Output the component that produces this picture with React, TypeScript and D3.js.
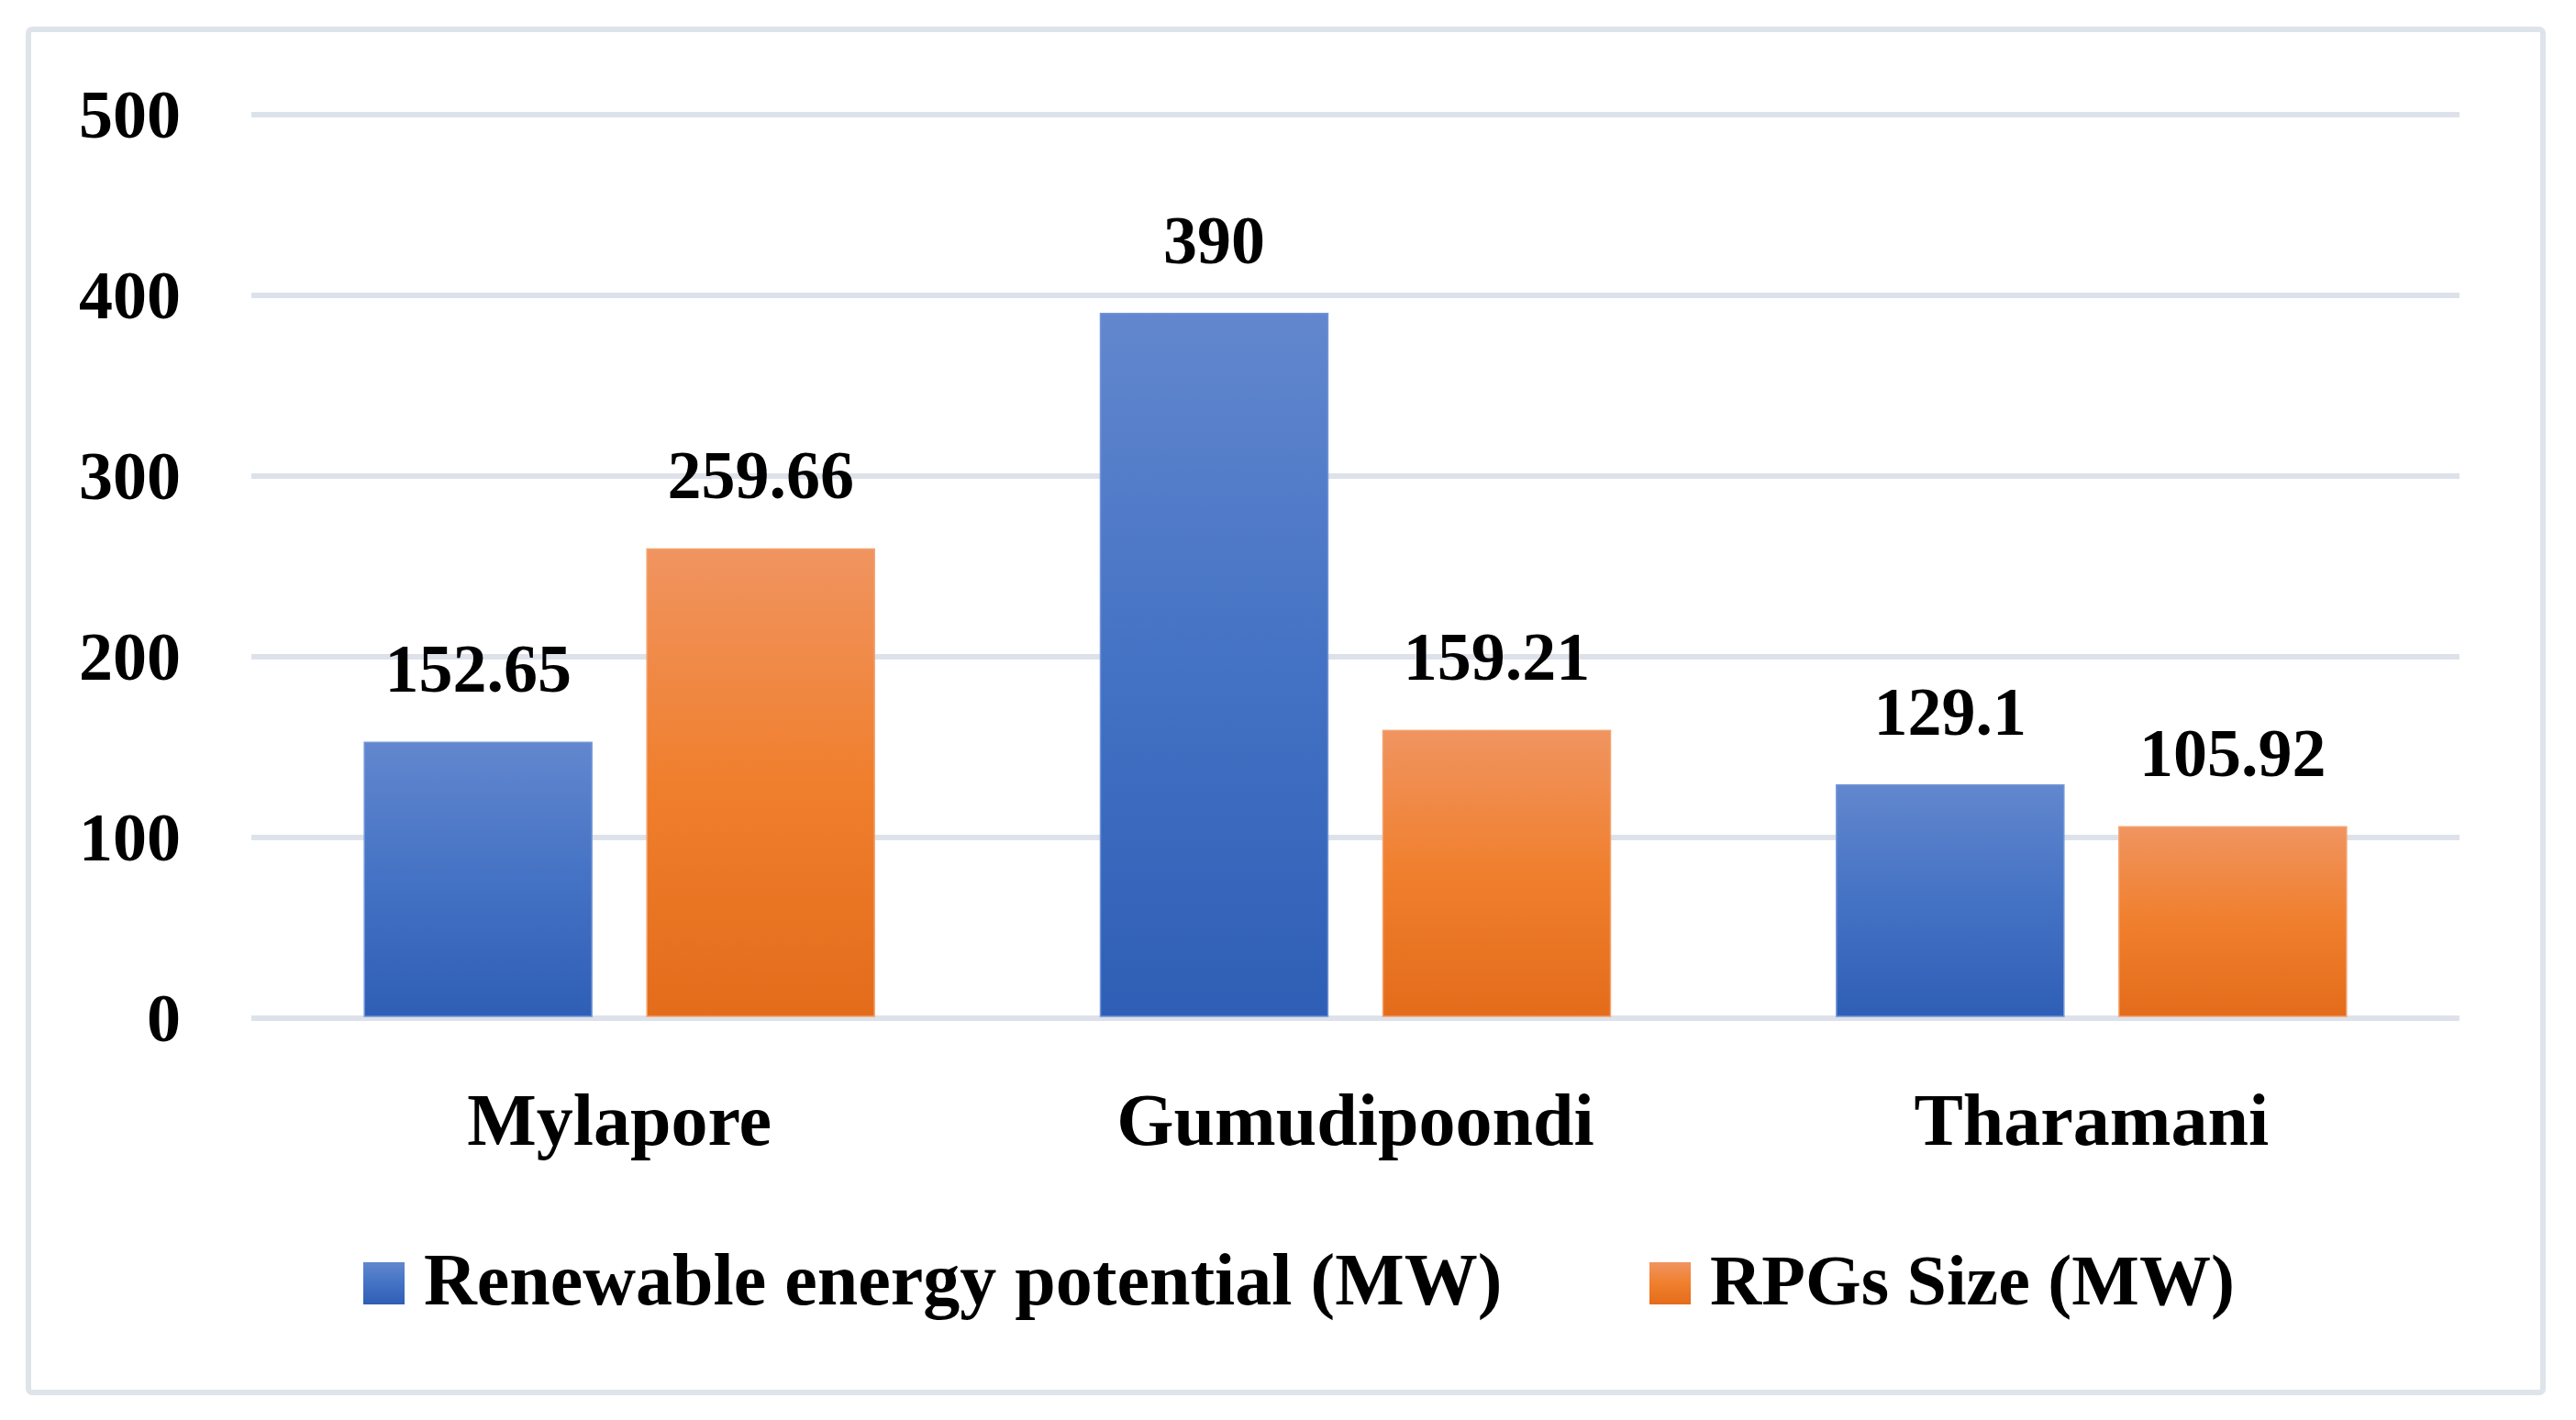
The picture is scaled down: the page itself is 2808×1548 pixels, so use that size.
import React from "react";
import * as d3 from "d3";

const categories = ["Mylapore", "Gumudipoondi", "Tharamani"];
const seriesNames = ["Renewable energy potential (MW)", "RPGs Size (MW)"];
const renewablePotential = [152.65, 390, 129.1];
const rpgSize = [259.66, 159.21, 105.92];
const valueLabels = [["152.65", "390", "129.1"], ["259.66", "159.21", "105.92"]];
const yTicks = [0, 100, 200, 300, 400, 500];

const W = 2808;
const H = 1548;
const FONT = "'Liberation Serif', 'Times New Roman', serif";

export default function App() {
  const plotLeft = 274;
  const plotRight = 2681;
  const yTop = 125;
  const yBottom = 1110;

  const y = d3.scaleLinear().domain([0, 500]).range([yBottom, yTop]);
  const x0 = d3.scaleBand<string>().domain(categories).range([plotLeft, plotRight]).padding(0);
  const groupW = 556;
  const x1 = d3
    .scaleBand<string>()
    .domain(seriesNames)
    .range([(x0.bandwidth() - groupW) / 2, (x0.bandwidth() + groupW) / 2])
    .paddingInner(0.195)
    .paddingOuter(0);

  const seriesValues = [renewablePotential, rpgSize];
  const gradIds = ["gradBlue", "gradOrange"];
  const strokeCols = ["#7396d8", "#f3a26e"];

  return (
    <svg
      width={W}
      height={H}
      viewBox={`0 0 ${W} ${H}`}
      style={{ position: "absolute", left: 0, top: 0, display: "block", background: "#ffffff" }}
    >
      <defs>
        <linearGradient id="gradBlue" x1="0" y1="0" x2="0" y2="1">
          <stop offset="0%" stopColor="#6287ce" />
          <stop offset="50%" stopColor="#4472c4" />
          <stop offset="100%" stopColor="#2f5eb6" />
        </linearGradient>
        <linearGradient id="gradOrange" x1="0" y1="0" x2="0" y2="1">
          <stop offset="0%" stopColor="#f09460" />
          <stop offset="50%" stopColor="#f07f2d" />
          <stop offset="100%" stopColor="#e36c1b" />
        </linearGradient>
      </defs>
      <rect x={0} y={0} width={W} height={H} fill="#ffffff" />
      <rect
        x={31}
        y={32}
        width={2741}
        height={1486}
        rx={4}
        fill="#ffffff"
        stroke="#dfe3ea"
        strokeWidth={6}
      />
      {/* gridlines */}
      {yTicks.map((t) => (
        <line
          key={"g" + t}
          x1={plotLeft}
          x2={plotRight}
          y1={y(t)}
          y2={y(t)}
          stroke="#dde2ea"
          strokeWidth={6}
        />
      ))}
      {/* y labels */}
      {yTicks.map((t) => (
        <text
          key={"yl" + t}
          x={197}
          y={y(t)}
          dy="0.34em"
          textAnchor="end"
          fontFamily={FONT}
          fontWeight="bold"
          fontSize={74}
          fill="#000"
        >
          {t}
        </text>
      ))}
      {/* bars */}
      {categories.map((c, ci) => (
        <g key={c} transform={`translate(${x0(c)},0)`}>
          {seriesNames.map((s, si) => {
            const v = seriesValues[si][ci];
            const bx = x1(s) as number;
            return (
              <g key={s}>
                <rect
                  x={bx}
                  y={y(v)}
                  width={x1.bandwidth()}
                  height={y(0) - y(v) - 2}
                  fill={`url(#${gradIds[si]})`}
                  stroke={strokeCols[si]}
                  strokeWidth={1.5}
                />
                <text
                  x={bx + x1.bandwidth() / 2}
                  y={y(v) - 55}
                  textAnchor="middle"
                  fontFamily={FONT}
                  fontWeight="bold"
                  fontSize={74}
                  fill="#000"
                >
                  {valueLabels[si][ci]}
                </text>
              </g>
            );
          })}
        </g>
      ))}
      {/* category labels */}
      {categories.map((c) => (
        <text
          key={"c" + c}
          x={(x0(c) as number) + x0.bandwidth() / 2}
          y={1248}
          textAnchor="middle"
          fontFamily={FONT}
          fontWeight="bold"
          fontSize={80}
          fill="#000"
        >
          {c}
        </text>
      ))}
      {/* legend */}
      {seriesNames.map((s, i) => {
        const lx = i === 0 ? 396 : 1798;
        return (
          <g key={"lg" + s}>
            <rect x={lx} y={1376} width={45} height={46} fill={`url(#${gradIds[i]})`} />
            <text
              x={lx + 66}
              y={1422}
              fontFamily={FONT}
              fontWeight="bold"
              fontSize={i === 0 ? 80 : 78}
              fill="#000"
            >
              {s}
            </text>
          </g>
        );
      })}
    </svg>
  );
}
